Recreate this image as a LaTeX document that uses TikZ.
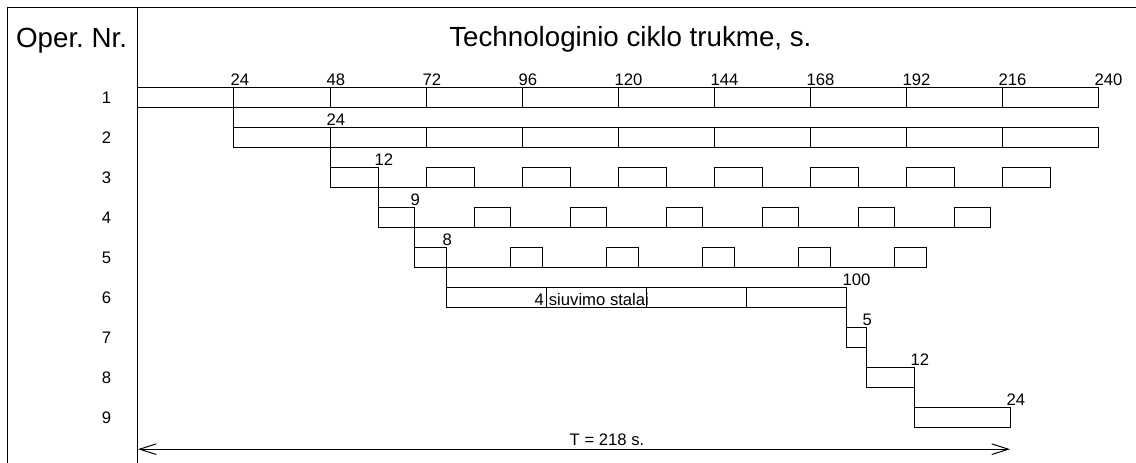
\documentclass[tikz,border=0pt]{standalone}
\usepackage{fontspec}
\setmainfont{Liberation Sans}
\usetikzlibrary{arrows.meta}
\frenchspacing

\begin{document}
\begin{tikzpicture}[x=3pt, y=-30pt, line width=0.75pt,
  tick/.style={font=\fontsize{12.5}{14}\selectfont, inner sep=0pt, anchor=base west},
  oper/.style={font=\fontsize{12.5}{14}\selectfont, inner sep=0pt},
  head/.style={font=\fontsize{20.8}{24}\selectfont, inner sep=0pt, anchor=base},
  span/.style={{Straight Barb[length=12.5pt,width=8pt]}-{Straight Barb[length=12.5pt,width=8pt]}}]
  \useasboundingbox (-34.5,-0.2) rectangle (249.5,11.375);
  % frame and header
  \draw (-32.5,11.375) -- (-32.5,0) -- (249.5,0);
  \draw (0,0) -- (0,11.375);
  \node[head] (oper) at (-16.6,0.98) {Oper. Nr.};
  \node[head] (title) at (123.1,0.97) {Technologinio ciklo trukme, s.};
  % operation numbers
  \foreach \k in {1,...,9} \node[oper] (nr\k) at (-7.9,\k+1.25) {\k};
  % row 1 with time axis
  \draw (0,2) rectangle (240,2.5);
  \foreach \t in {24,48,...,240} {
    \draw (\t,2) -- (\t,2.5);
    \node[tick] (ax\t) at (\t-1,1.95) {\t};
  }
  % row 2
  \draw (24,3) rectangle (240,3.5);
  \foreach \t in {48,72,...,216} \draw (\t,3) -- (\t,3.5);
  % rows 3-5, short cycles
  \draw (48,4.5) -- (228,4.5);
  \foreach \t in {48,72,...,216} \draw (\t,4.5) |- (\t+12,4) -- (\t+12,4.5);
  \draw (60,5.5) -- (213,5.5);
  \foreach \t in {60,84,...,204} \draw (\t,5.5) |- (\t+9,5) -- (\t+9,5.5);
  \draw (69,6.5) -- (197,6.5);
  \foreach \t in {69,93,...,189} \draw (\t,6.5) |- (\t+8,6) -- (\t+8,6.5);
  % row 6
  \draw (77,7) rectangle (177,7.5);
  \foreach \t in {102,127,152} \draw (\t,7) -- (\t,7.5);
  \node[oper, anchor=base east] (mach) at (101.6,7.45) {4};
  \node[oper, anchor=base west] (stal) at (102.6,7.45) {siuvimo stalai};
  % rows 7-9
  \draw (177,8) rectangle (182,8.5);
  \draw (182,9) rectangle (194,9.5);
  \draw (194,10) rectangle (218,10.5);
  % links between rows and durations
  \foreach \t [count=\k from 2] in {24, 48, 60, 69, 77, 177, 182, 194} {
    \draw (\t,\k) -- (\t,\k+1.5);
  }
  \foreach \t/\d [count=\k from 2] in {48/24, 60/12, 69/9, 77/8, 177/100, 182/5, 194/12, 218/24}
    \node[tick] (dur\k) at (\t-1,\k+0.95) {\d};
  % cycle time
  \coordinate (t0) at (0,11.03);
  \coordinate (t1) at (218,11.03);
  \draw[span] (t0) -- (t1);
  \node[oper, anchor=base] (cycle) at (117.25,10.95) {T = 218 s.};
\end{tikzpicture}
\end{document}
